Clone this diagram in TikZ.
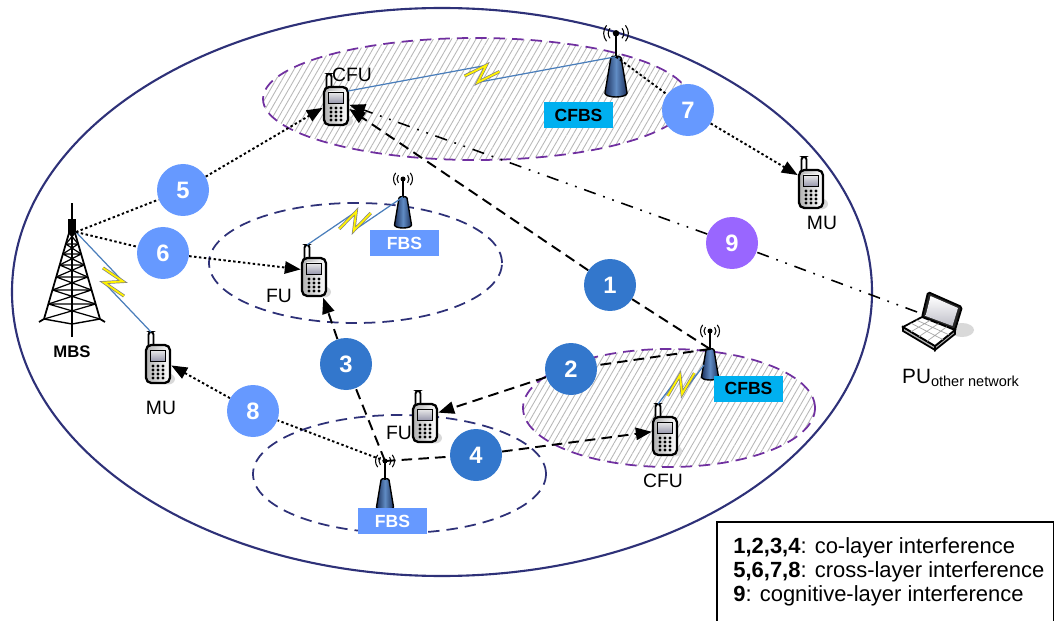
\documentclass[tikz,border=0pt]{standalone}
\usepackage{fontspec}
\setmainfont{Liberation Sans}
\usetikzlibrary{arrows.meta,calc,positioning,patterns.meta}

\definecolor{navy}{RGB}{46,49,120}
\definecolor{cogpurple}{RGB}{112,48,160}
\definecolor{lightnum}{RGB}{102,153,255}
\definecolor{darknum}{RGB}{51,119,204}
\definecolor{cognum}{RGB}{153,102,255}
\definecolor{cfbscyan}{RGB}{0,176,240}
\definecolor{linkblue}{RGB}{74,126,187}
\definecolor{apdark}{RGB}{28,48,92}
\definecolor{aplight}{RGB}{96,140,196}

\tikzset{
  >={Triangle[length=9pt,width=7pt]},
  macrocell/.style={draw=navy, line width=1.2pt},
  femtocell/.style={draw=navy, line width=1pt, dash pattern=on 6.5pt off 4pt},
  cogcell/.style={draw=cogpurple, line width=1pt, dash pattern=on 6.5pt off 4pt,
    pattern={Lines[angle=60,distance=3pt,line width=.5pt]}, pattern color=black!28},
  num/.style={circle, minimum size=1.04cm, inner sep=0pt, text=white,
    font=\fontsize{13.5}{14}\selectfont\bfseries},
  colayer/.style={num, fill=darknum},
  crosslayer/.style={num, fill=lightnum},
  coglayer/.style={num, fill=cognum},
  coline/.style={line width=1.1pt, dash pattern=on 6pt off 3.5pt},
  crossline/.style={line width=1.1pt, dash pattern=on 1.4pt off 1.4pt},
  cogline/.style={line width=.9pt, dash pattern=on 7pt off 4.5pt on 1pt off 4.5pt on 1pt off 4.5pt},
  devlabel/.style={font=\fontsize{11}{12}\selectfont},
  fbstag/.style={fill=lightnum, text=white, minimum width=1.38cm, minimum height=.52cm,
    inner sep=0pt, font=\fontsize{10}{11}\selectfont\bfseries},
  cfbstag/.style={fbstag, fill=cfbscyan, text=black},
  radio/.style={draw=linkblue, line width=.7pt},
  % handset
  phone/.pic={
    \fill[black!15] (0.2,-0.3) ellipse [x radius=0.14, y radius=0.11];
    \draw[line width=1.1pt, fill=white, rounded corners=1.5pt] (-0.19,0.3) rectangle (-0.09,0.64);
    \draw[line width=1.3pt, rounded corners=3pt, left color=black!30, right color=white]
      (-0.24,-0.38) rectangle (0.24,0.38);
    \draw[thin, top color=black!8, bottom color=blue!20!black!40] (-0.15,0.06) rectangle (0.15,0.28);
    \foreach \kx in {-0.1,0,0.1}
      \foreach \ky in {-0.04,-0.12,-0.2,-0.28}
        \fill (\kx,\ky) circle (0.032);
    \node[inner sep=0pt, minimum width=0.52cm, minimum height=1.06cm] (-b) at (0,0.12) {};
    \coordinate (-ant) at (-0.14,0.64);
    \coordinate (-ear) at (0.24,0.3);
  },
  % femto / cognitive femto access point
  fap/.pic={
    \draw[line width=.8pt, left color=apdark, right color=apdark, middle color=aplight]
      (-0.17,0.06) -- (-0.08,0.6) arc[start angle=180, end angle=0, x radius=0.08, y radius=0.03]
      -- (0.17,0.06) arc[start angle=0, end angle=-180, x radius=0.17, y radius=0.06] -- cycle;
    \draw[line width=1pt] (0,0.6) -- (0,0.96);
    \fill (0,0.98) circle (0.05);
    \foreach \r in {0.12,0.19} {
      \draw[line width=.6pt] (0,0.98) ++(140:\r) arc[start angle=140, end angle=220, radius=\r];
      \draw[line width=.6pt] (0,0.98) ++(-40:\r) arc[start angle=-40, end angle=40, radius=\r];
    }
    \coordinate (-top) at (0,0.62);
    \coordinate (-side) at (-0.12,0.3);
    \coordinate (-tip) at (0,0.98);
  },
  % lattice mast
  tower/.pic={
    \draw[line width=1pt] (0,-0.3) -- (0,2.38);
    \draw[line width=.8pt, fill=black] (-0.06,1.78) rectangle (0.06,2.04);
    \draw[line width=1pt] (-0.06,1.78) -- (-0.56,0.06) -- (-0.66,0)
                          (0.06,1.78) -- (0.56,0.06) -- (0.66,0);
    \foreach \lo/\hi in {0.06/0.36,0.36/0.64,0.64/0.9,0.9/1.14,1.14/1.36,1.36/1.56,1.56/1.78} {
      \pgfmathsetmacro\wlo{0.06+0.5*(1.78-\lo)/1.72}
      \pgfmathsetmacro\whi{0.06+0.5*(1.78-\hi)/1.72}
      \draw[line width=.7pt] (-\wlo,\lo) -- (\whi,\hi) (\wlo,\lo) -- (-\whi,\hi)
                             (-\whi,\hi) -- (\whi,\hi);
    }
    \draw[line width=.8pt] (-0.56,0.06) -- (0,-0.04) -- (0.56,0.06);
    \coordinate (-top) at (0.08,1.8);
  },
  % notebook
  laptop/.pic={
    \fill[black!15] (0.54,-0.2) ellipse [x radius=0.24, y radius=0.14];
    \draw[line width=1pt, fill=black!85, rounded corners=1pt]
      (-0.14,0.56) -- (0.54,0.26) -- (0.4,-0.2) -- (-0.26,0.06) -- cycle;
    \fill[top color=white, bottom color=blue!15!black!25]
      (-0.09,0.48) -- (0.46,0.24) -- (0.35,-0.12) -- (-0.19,0.08) -- cycle;
    \draw[line width=1pt, fill=black!30] (-0.64,-0.14) -- (0,-0.52) -- (0,-0.6) -- (-0.64,-0.22) -- cycle;
    \draw[line width=1pt, fill=black!30] (0,-0.52) -- (0.4,-0.2) -- (0.4,-0.28) -- (0,-0.6) -- cycle;
    \draw[line width=1pt, fill=white] (-0.26,0.06) -- (0.4,-0.2) -- (0,-0.52) -- (-0.64,-0.14) -- cycle;
    \draw[black!35, thin] (-0.374,0) -- (0.28,-0.296) (-0.488,-0.06) -- (0.16,-0.392)
      (-0.095,-0.005) -- (-0.48,-0.235) (0.07,-0.07) -- (-0.32,-0.33) (0.235,-0.135) -- (-0.16,-0.425);
    \coordinate (-port) at (-0.36,0.16);
  },
}

% radio hop with a bolt half way
\newcommand{\radiolink}[2]{%
  \coordinate (rlmid) at ($(#1)!0.5!(#2)$);
  \coordinate (rlup) at ($(rlmid)!3pt!(#2)!4.5pt!90:(#2)$);
  \coordinate (rldown) at ($(rlmid)!3pt!(#1)!4.5pt!-90:(#2)$);
  \draw[radio] (#1) -- (rlup) -- (rldown) -- (#2);
  \draw[black!50, line width=1.8pt, line join=miter]
    ($(rlmid)!10pt!(#1)$) -- (rlup) -- (rldown) -- ($(rlmid)!10pt!(#2)$);
  \draw[yellow, line width=1pt, line join=miter]
    ($(rlmid)!10pt!(#1)$) -- (rlup) -- (rldown) -- ($(rlmid)!10pt!(#2)$);
}

\begin{document}
\begin{tikzpicture}
  \useasboundingbox (0,0) rectangle (21.08,-12.42);

  % coverage areas
  \draw[macrocell] (8.84,-5.84) ellipse [x radius=8.6, y radius=5.68];
  \path[cogcell] (9.52,-1.98) ellipse [x radius=4.26, y radius=1.22];
  \path[cogcell] (13.38,-8.16) ellipse [x radius=2.92, y radius=1.18];
  \draw[femtocell] (7.11,-5.26) ellipse [x radius=2.93, y radius=1.2];
  \draw[femtocell] (7.99,-9.48) ellipse [x radius=2.93, y radius=1.18];

  % stations and terminals
  \pic (mbs) at (1.44,-6.44) {tower};
  \pic[scale=1.3] (cfbsA) at (12.32,-1.94) {fap};
  \pic (fbsA) at (8.06,-4.56) {fap};
  \pic (fbsB) at (7.7,-10.2) {fap};
  \pic (cfbsB) at (14.2,-7.6) {fap};
  \pic (cfuA) at (6.72,-2.12) {phone};
  \pic (fuA) at (6.28,-5.54) {phone};
  \pic (muA) at (3.16,-7.28) {phone};
  \pic (muB) at (16.22,-3.78) {phone};
  \pic (fuB) at (8.5,-8.46) {phone};
  \pic (cfuB) at (13.3,-8.72) {phone};
  \pic (pu) at (18.7,-6.4) {laptop};

  % interference markers
  \node (n1) [colayer] at (12.2,-5.7) {1};
  \node (n2) [colayer] at (11.42,-7.38) {2};
  \node (n3) [colayer] at (6.92,-7.28) {3};
  \node (n4) [colayer] at (9.52,-9.1) {4};
  \node (n5) [crosslayer] at (3.66,-3.8) {5};
  \node (n6) [crosslayer] at (3.26,-5.06) {6};
  \node (n7) [crosslayer] at (13.76,-2.2) {7};
  \node (n8) [crosslayer] at (5.06,-8.22) {8};
  \node (n9) [coglayer] at (14.64,-4.86) {9};

  % serving links
  \radiolink{muA-ant}{mbs-top}
  \radiolink{cfuA-ear}{cfbsA-top}
  \radiolink{fuA-ant}{fbsA-top}
  \radiolink{cfuB-ant}{cfbsB-side}

  % cross-layer
  \draw[crossline, ->] (mbs-top) -- (n5) -- (cfuA-b);
  \draw[crossline, ->] (mbs-top) -- (n6) -- (fuA-b);
  \draw[crossline, ->] (cfbsA-top) -- (n7) -- (muB-b);
  \draw[crossline, ->] (fbsB-tip) -- (n8) -- (muA-b);
  % co-layer
  \draw[coline, ->] (cfbsB-top) -- (n1) -- (cfuA-b);
  \draw[coline, ->] (cfbsB-top) -- (n2) -- (fuB-b);
  \draw[coline, ->] (fbsB-tip) -- (n3) -- (fuA-b);
  \draw[coline, ->] (fbsB-tip) -- (n4) -- (cfuB-b);
  % cognitive
  \draw[cogline, ->] (pu-port) -- (n9) -- (cfuA-b);

  % names
  \node (mbsL) [font=\fontsize{9.5}{10}\selectfont\bfseries] at (1.44,-7.04) {MBS};
  \node (cfuAL) [devlabel] at (7.04,-1.5) {CFU};
  \node (fuAL) [devlabel] at (5.58,-5.92) {FU};
  \node (muAL) [devlabel] at (3.22,-8.16) {MU};
  \node (muBL) [devlabel] at (16.44,-4.46) {MU};
  \node (fuBL) [devlabel] at (7.98,-8.66) {FU};
  \node (cfuBL) [devlabel] at (13.26,-9.62) {CFU};
  \node (cfbsAT) [cfbstag] at (11.57,-2.31) {CFBS};
  \node (fbsAT) [fbstag] at (8.09,-4.87) {FBS};
  \node (fbsBT) [fbstag] at (7.85,-10.42) {FBS};
  \node (cfbsBT) [cfbstag] at (14.97,-7.77) {CFBS};
  \node (puL) [font=\fontsize{11.8}{12}\selectfont] at (19.22,-7.56) {PU\textsubscript{other network}};

  % legend
  \node (legend) [anchor=north west, minimum width=6.72cm, minimum height=1.98cm, inner sep=0pt] at (14.34,-10.44) {};
  \draw[line width=.8pt] (legend.south west) -- (legend.north west) -- (legend.north east) -- (legend.south east);
  \node (legendtext) [right=0.32cm of legend.west, inner sep=0pt, align=left,
    font=\fontsize{12.5}{13.5}\selectfont]
    {\textbf{1,2,3,4}: co-layer interference\\
     \textbf{5,6,7,8}: cross-layer interference\\
     \textbf{9}: cognitive-layer interference};
\end{tikzpicture}
\end{document}
